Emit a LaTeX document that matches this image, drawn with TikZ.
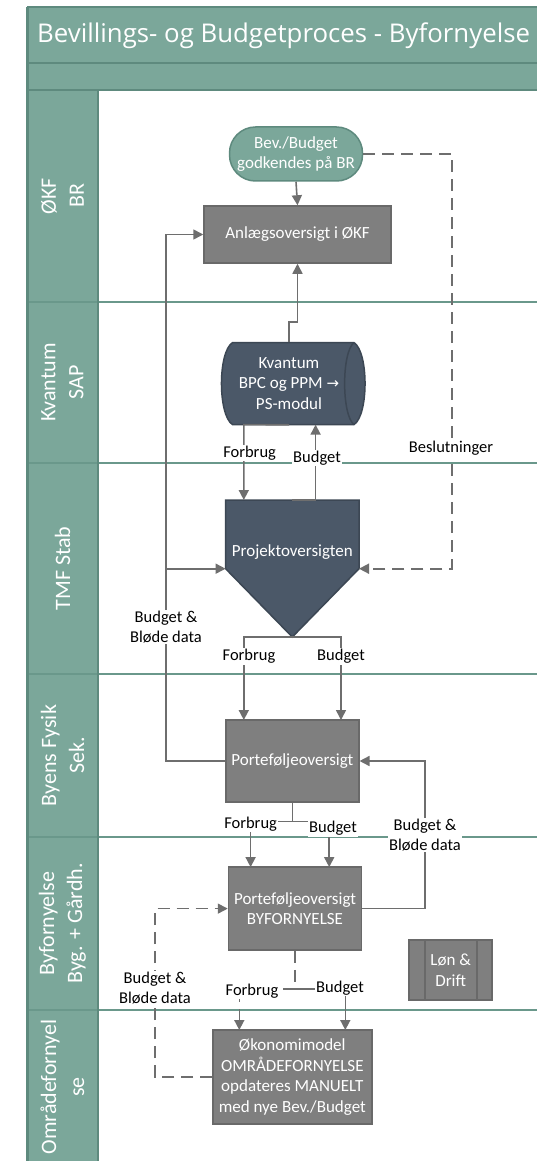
\documentclass[tikz,border=0pt]{standalone}
\usepackage{fontspec}
\setmainfont{Carlito}
\newfontfamily\titlefont{Open Sans}
\newfontfamily\symfont{DejaVu Sans}
\usetikzlibrary{arrows.meta}
\definecolor{lanefill}{HTML}{7BA79A}
\definecolor{lanedark}{HTML}{5E8A7E}
\definecolor{laneline}{HTML}{6A988B}
\definecolor{boxgray}{HTML}{7F7F7F}
\definecolor{boxgrayD}{HTML}{696969}
\definecolor{slate}{HTML}{4B5868}
\definecolor{slateD}{HTML}{3C4754}
\definecolor{conncol}{HTML}{6E6E6E}
\begin{document}
\begin{tikzpicture}[x=1pt,y=-1pt,
  conn/.style={draw=conncol, line width=1.6pt},
  arr/.style={-{Triangle[length=10pt,width=10pt]}},
  dsh/.style={dash pattern=on 12pt off 7pt},
  lbl/.style={fill=white, inner sep=1pt, text=black, align=center, font=\fontsize{16.5}{19.5}\selectfont},
  nodetext/.style={text=white, align=center, font=\fontsize{17}{20.8}\selectfont},
  graybox/.style={nodetext, draw=boxgrayD, fill=boxgray, line width=1.5pt, inner sep=0pt},
  lanelbl/.style={rotate=90, text=white, align=center, font=\fontsize{22}{28}\selectfont}]
\useasboundingbox (0,0) rectangle (536,1161);
\fill[white] (0,0) rectangle (536,1161);
% pool frame
\fill[lanefill] (27,7) rectangle (537,90);
\fill[lanefill] (27,90) rectangle (98,1162);
\foreach \yy in {7,63,90} \draw[lanedark, line width=2pt] (27,\yy) -- (537,\yy);
\foreach \yy in {302,463,674,837,1010} \draw[laneline, line width=2.5pt] (27,\yy) -- (537,\yy);
\draw[lanedark, line width=3pt] (27,7) -- (27,1162);
\draw[lanedark, line width=2pt] (98,90) -- (98,1162);
\node[anchor=base west, inner sep=0pt, text=white, font=\titlefont\fontsize{25.8}{30}\selectfont] (title) at (37,42.7) {Bevillings- og Budgetproces - Byfornyelse};
% lane labels
\node[lanelbl] (l1) at (62.5,196) {ØKF\\BR};
\node[lanelbl] (l2) at (62.5,382.5) {Kvantum\\SAP};
\node[lanelbl] (l3) at (62.5,568.5) {TMF Stab};
\node[lanelbl] (l4) at (62.5,755.5) {Byens Fysik\\Sek.};
\node[lanelbl] (l5) at (62.5,923.5) {Byfornyelse\\Byg. + Gårdh.};
\node[lanelbl] (l6) at (62.5,1087) {Områdefornyel\\se};
% nodes
\node[nodetext, draw=lanedark, fill=lanefill, line width=1.5pt, rounded corners=26pt, minimum width=133pt, minimum height=54pt, inner sep=0pt] (term) at (296,154) {Bev./Budget\\godkendes på BR};
\node[graybox, minimum width=187pt, minimum height=57pt] (anlaeg) at (297.5,234.5) {Anlægsoversigt i ØKF};
% Kvantum cylinder
\fill[slate] (232.5,342.6) -- (354,342.6) .. controls (368.7,352) and (368.7,415) .. (354,424.6) -- (232.5,424.6) .. controls (217.8,415) and (217.8,352) .. (232.5,342.6) -- cycle;
\draw[slateD, line width=1.5pt] (232.5,342.6) -- (354,342.6) .. controls (368.7,352) and (368.7,415) .. (354,424.6) -- (232.5,424.6) .. controls (217.8,415) and (217.8,352) .. (232.5,342.6) -- cycle;
\draw[slateD, line width=1.5pt] (354,342.6) .. controls (341.5,352) and (341.5,415) .. (354,424.6);
\node[nodetext, minimum width=143pt, minimum height=82pt, inner sep=0pt] (kv) at (289,383.6) {Kvantum\\BPC og PPM {\symfont\fontsize{15}{16}\selectfont →}\\PS-modul};
% Projektoversigten pentagon
\coordinate (pjT) at (292.3,500);
\coordinate (pjL) at (225.6,568.7);
\coordinate (pjR) at (359,568.7);
\coordinate (pjB) at (292.3,637);
\filldraw[fill=slate, draw=slateD, line width=1.5pt] (225.6,500) -- (359,500) -- (pjR) -- (pjB) -- (pjL) -- cycle;
\node[nodetext] (proj) at (292.3,552) {Projektoversigten};
\node[graybox, minimum width=133pt, minimum height=82pt] (porte) at (292.3,761) {Porteføljeoversigt};
\node[graybox, minimum width=133pt, minimum height=83pt] (byf) at (295,908.6) {Porteføljeoversigt\\BYFORNYELSE};
\node[graybox, minimum width=83pt, minimum height=60pt] (lon) at (450.7,970.2) {Løn \&\\Drift};
\draw[boxgrayD, line width=1.5pt] (425,940.2) -- (425,1000.2) (477,940.2) -- (477,1000.2);
\node[graybox, minimum width=159pt, minimum height=94pt] (oek) at (292.3,1077) {Økonomimodel\\OMRÅDEFORNYELSE\\opdateres MANUELT\\med nye Bev./Budget};
% connectors
\draw[conn,arr] (term.south) -- (anlaeg.north);
\draw[conn,arr,dsh] (term.east) -- (452,154) -- (452,568.7) -- (pjR);
\node[lbl] (beslut) at (451,448.5) {Beslutninger};
\draw[conn,arr] (kv.north) -- (289,322) -- (297.5,322) -- (anlaeg.south);
\draw[conn,arr] (kv.south) -- (243.8,424.6) -- (243.8,500);
\node[lbl] (f1) at (249.6,453) {Forbrug};
\draw[conn,arr] (pjT) -- (315.6,500) -- (315.6,424.6);
\node[lbl] (b1) at (317,458) {Budget};
% left feedback
\coordinate (bj) at (166,568.7);
\draw[conn,arr] (porte.west) -- (166,761) -- (166,234.5) -- (anlaeg.west);
\draw[conn,arr] (bj) -- (pjL);
\node[lbl] (bb1) at (166,627) {Budget \&\\Bløde data};
% projekt -> porte
\draw[conn,arr] (pjB) -- (243.8,637) -- (243.8,720);
\draw[conn,arr] (pjB) -- (341,637) -- (341,720);
\node[lbl] (f2) at (249,656.6) {Forbrug};
\node[lbl] (b2) at (341,656.6) {Budget};
% porte -> byf
\draw[conn,arr] (porte.south) -- (292.3,821.4) -- (250.6,821.4) -- (250.6,867.1);
\draw[conn,arr] (porte.south) -- (292.3,821.4) -- (329.2,821.4) -- (329.2,867.1);
\node[lbl] (f3) at (250.6,824) {Forbrug};
\node[lbl] (b3) at (333,828.5) {Budget};
% byf -> porte
\draw[conn,arr] (byf.east) -- (425,908.6) -- (425,761) -- (porte.east);
\node[lbl] (bb2) at (425,835) {Budget \&\\Bløde data};
% oek -> byf dashed
\draw[conn,arr,dsh] (oek.west) -- (155,1077) -- (155,908.6) -- (byf.west);
\node[lbl] (bb3) at (155,988) {Budget \&\\Bløde data};
% byf -> oek
\coordinate (bjn) at (295,989);
\draw[conn,arr] (bjn) -- (345.3,989) -- (345.3,1030);
\draw[conn,arr,dsh] (byf.south) -- (bjn) -- (239.3,989) -- (239.3,1030);
\node[lbl] (f4) at (252,991) {Forbrug};
\node[lbl] (b4) at (340,988) {Budget};
\end{tikzpicture}
\end{document}
